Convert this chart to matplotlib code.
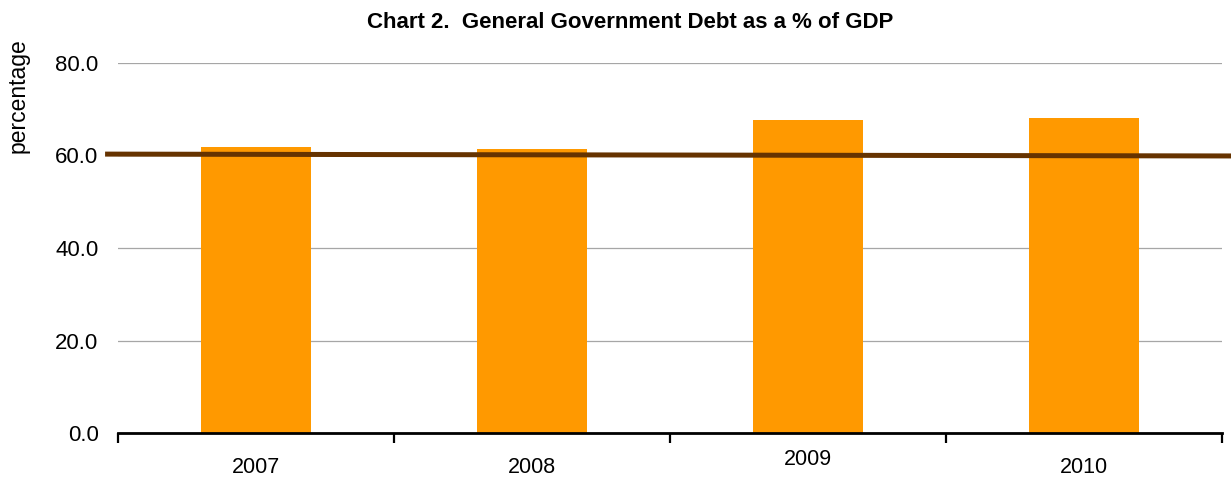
import matplotlib.pyplot as plt
import matplotlib.transforms as mtransforms
import numpy as np

years = ['2007', '2008', '2009', '2010']
debt = [61.8, 61.4, 67.7, 68.1]
# reference line (Maastricht 60% criterion), as drawn from left to right end
ref_line = [60.3, 59.9]

plt.rcParams['font.family'] = ['Liberation Sans', 'DejaVu Sans']

fig = plt.figure(figsize=(12.31, 4.79), dpi=100)
ax = fig.add_axes([0.0959, 0.096, 0.8968, 0.7725])

x = np.arange(len(years))
ax.bar(x, debt, width=0.4, color='#FF9900', zorder=2)

# brown line runs slightly past the plot area on both sides
ax.plot([-0.547, 3.533], ref_line, color='#663300', lw=3.6, zorder=3,
        clip_on=False, solid_capstyle='butt')

ax.set_xlim(-0.5, 3.5)
ax.set_ylim(0, 80)
ax.set_yticks([0, 20, 40, 60, 80])
ax.set_yticklabels([f'{v:.1f}' for v in [0, 20, 40, 60, 80]], fontsize=16)
ax.tick_params(axis='y', length=0, pad=14)
ax.yaxis.grid(True, color='#A6A6A6', lw=0.9, zorder=0)

# ticks between categories, labels centred under bars
ax.set_xticks(np.arange(-0.5, 4, 1))
ax.set_xticklabels([])
ax.tick_params(axis='x', which='major', direction='out', length=7, width=1.6, color='black')
ax.set_xticks(x, minor=True)
ax.set_xticklabels(years, minor=True, fontsize=15.5)
ax.tick_params(axis='x', which='minor', length=0, pad=17)
lbls = ax.get_xticklabels(minor=True)
lbls[2].set_transform(lbls[2].get_transform() +
                      mtransforms.ScaledTranslation(0, 8 / 100, fig.dpi_scale_trans))

for s in ['left', 'right', 'top']:
    ax.spines[s].set_visible(False)
ax.spines['bottom'].set_linewidth(2)
ax.spines['bottom'].set_zorder(4)

fig.text(0.512, 0.953, 'Chart 2.  General Government Debt as a % of GDP',
         ha='center', va='center', fontsize=16, fontweight='bold')
fig.text(0.015, 0.80, 'percentage', rotation=90, ha='center', va='center', fontsize=16.5)

fig.savefig('out.png', dpi=100)
